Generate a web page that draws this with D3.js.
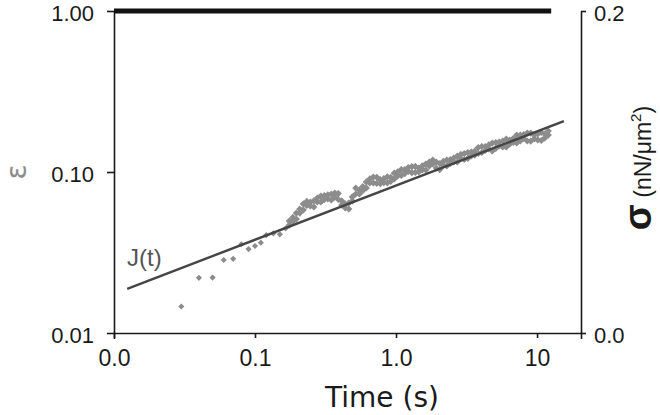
<!DOCTYPE html>
<html>
<head>
<meta charset="utf-8">
<script src="https://cdn.jsdelivr.net/npm/d3@7"></script>
<style>
  body { margin: 0; background: #fff; }
  svg { display: block; }
</style>
</head>
<body>
<script>
// creep data: time (s) and strain epsilon
// early, well separated points
var earlyTime = [0.03, 0.04, 0.05, 0.06, 0.07, 0.08, 0.09, 0.10, 0.11, 0.12, 0.135, 0.15, 0.165];
var earlyStrain = [0.0146, 0.0220, 0.0221, 0.0284, 0.0289, 0.0356, 0.0332, 0.0347, 0.0364, 0.0405, 0.0416, 0.0410, 0.0447];

// later points form a thick band: two readings (lower / upper part of the band) per time
var lateTime = [0.175, 0.1854, 0.1963, 0.2078, 0.22, 0.233, 0.2467, 0.2612, 0.2765, 0.2928,
  0.31, 0.3282, 0.3475, 0.368, 0.3896, 0.4125, 0.4368, 0.4625, 0.4897, 0.5185,
  0.549, 0.5813, 0.6155, 0.6517, 0.69, 0.7306, 0.7735, 0.819, 0.8672, 0.9182,
  0.9722, 1.029, 1.09, 1.154, 1.222, 1.294, 1.37, 1.45, 1.535, 1.626,
  1.721, 1.823, 1.93, 2.043, 2.163, 2.291, 2.425, 2.568, 2.719, 2.879,
  3.048, 3.227, 3.417, 3.618, 3.831, 4.056, 4.295, 4.547, 4.814, 5.097,
  5.397, 5.714, 6.05, 6.406, 6.783, 7.182, 7.604, 8.051, 8.524, 9.026,
  9.556, 10.12, 10.71, 11.34, 12.01];
var lateStrainA = [0.0496, 0.0493, 0.0556, 0.0556, 0.0581, 0.0656, 0.0615, 0.0661, 0.0651, 0.0651,
  0.0714, 0.0680, 0.0730, 0.0699, 0.0675, 0.0661, 0.0598, 0.0642, 0.0661, 0.0730,
  0.0773, 0.0767, 0.0867, 0.0855, 0.0855, 0.0927, 0.0848, 0.0909, 0.0857, 0.0927,
  0.0986, 0.0945, 0.0951, 0.1036, 0.1007, 0.1079, 0.0994, 0.1059, 0.1029, 0.1121,
  0.1090, 0.1187, 0.1059, 0.1129, 0.1098, 0.1090, 0.1196, 0.1154, 0.1257, 0.1213,
  0.1196, 0.1322, 0.1257, 0.1350, 0.1303, 0.1440, 0.1360, 0.1472, 0.1350, 0.1525,
  0.1450, 0.1430, 0.1603, 0.1492, 0.1615, 0.1514, 0.1697, 0.1615, 0.1558, 0.1746,
  0.1603, 0.1722, 0.1569, 0.1722, 0.1697];
var lateStrainB = [0.0468, 0.0522, 0.0510, 0.0589, 0.0633, 0.0620, 0.0651, 0.0607, 0.0689, 0.0709,
  0.0674, 0.0720, 0.0670, 0.0740, 0.0735, 0.0624, 0.0633, 0.0589, 0.0700, 0.0795,
  0.0730, 0.0812, 0.0796, 0.0905, 0.0931, 0.0851, 0.0898, 0.0858, 0.0934, 0.0875,
  0.0905, 0.1001, 0.1036, 0.0978, 0.1066, 0.0991, 0.1083, 0.1000, 0.1090, 0.1029,
  0.1154, 0.1121, 0.1154, 0.1036, 0.1163, 0.1187, 0.1130, 0.1222, 0.1154, 0.1285,
  0.1303, 0.1214, 0.1331, 0.1274, 0.1420, 0.1322, 0.1440, 0.1390, 0.1513, 0.1400,
  0.1536, 0.1558, 0.1430, 0.1580, 0.1525, 0.1697, 0.1558, 0.1710, 0.1747, 0.1557,
  0.1697, 0.1581, 0.1759, 0.1626, 0.1797];

// power-law fit J(t), end points
var fitTime = [0.0124, 15.5];
var fitStrain = [0.0188, 0.207];

// applied stress (right axis)
var stressTime = [0.01, 12.6];
var stress = [0.2, 0.2];

var xTicks = [0.01, 0.1, 1, 10];
var xTickLabels = ["0.0", "0.1", "1.0", "10"];
var yTicks = [0.01, 0.1, 1];
var yTickLabels = ["0.01", "0.10", "1.00"];
var y2Ticks = [0, 0.2];
var y2TickLabels = ["0.0", "0.2"];

var W = 660, H = 415;
var margin = {top: 11, right: 79, bottom: 82, left: 114};
var width = W - margin.left - margin.right,
    height = H - margin.top - margin.bottom;

var svg = d3.select("body").append("svg")
    .attr("width", W)
    .attr("height", H);

var g = svg.append("g")
    .attr("transform", "translate(" + margin.left + "," + margin.top + ")");

var x = d3.scaleLog().domain([0.01, 20.5]).range([0, width]);
var y = d3.scaleLog().domain([0.01, 1]).range([height, 0]);
var y2 = d3.scaleLinear().domain([0, 0.2]).range([height, 0]);

var numFont = "'Liberation Sans', Arial, sans-serif";

// bottom axis
var xAxis = g.append("g")
    .attr("transform", "translate(0," + height + ")")
    .call(d3.axisBottom(x).tickValues(xTicks)
      .tickFormat(function(d, i) { return xTickLabels[i]; })
      .tickSize(5).tickSizeOuter(6).tickPadding(6));

// left axis
var yAxis = g.append("g")
    .call(d3.axisLeft(y).tickValues(yTicks)
      .tickFormat(function(d, i) { return yTickLabels[i]; })
      .tickSize(7).tickSizeOuter(0).tickPadding(13));

// right axis
var y2Axis = g.append("g")
    .attr("transform", "translate(" + width + ",0)")
    .call(d3.axisRight(y2).tickValues(y2Ticks)
      .tickFormat(function(d, i) { return y2TickLabels[i]; })
      .tickSize(5).tickSizeOuter(0).tickPadding(8));

[xAxis, yAxis, y2Axis].forEach(function(a) {
  a.select(".domain").attr("stroke", "#1a1a1a").attr("stroke-width", 1.6);
  a.selectAll(".tick line").attr("stroke", "#1a1a1a").attr("stroke-width", 1.6);
  a.selectAll("text").attr("fill", "#1a1a1a")
    .style("font-family", numFont).style("font-size", "22px");
});
xAxis.selectAll("text").style("font-size", "23px").attr("dy", "0.95em");
yAxis.selectAll("text").attr("dy", "0.44em");
y2Axis.selectAll("text").attr("dy", "0.44em");

// data diamonds
var points = earlyTime.map(function(t, i) { return {t: t, e: earlyStrain[i], s: 19}; });
lateTime.forEach(function(t, i) {
  points.push({t: t, e: lateStrainA[i], s: 26});
  points.push({t: t, e: lateStrainB[i], s: 26});
});

g.selectAll(".pt")
    .data(points)
  .enter().append("path")
    .attr("class", "pt")
    .attr("d", function(d) { return d3.symbol().type(d3.symbolSquare).size(d.s)(); })
    .attr("transform", function(d) {
      return "translate(" + x(d.t) + "," + y(d.e) + ") rotate(45)";
    })
    .attr("fill", "#8c8c8c");

// fit line
var fitLine = d3.line()
    .x(function(d) { return x(d); })
    .y(function(d, i) { return y(fitStrain[i]); });
g.append("path")
    .datum(fitTime)
    .attr("fill", "none")
    .attr("stroke", "#454545")
    .attr("stroke-width", 2.4)
    .attr("d", fitLine);

// stress line
var stressLine = d3.line()
    .x(function(d) { return x(d); })
    .y(function(d, i) { return y2(stress[i]); });
g.append("path")
    .datum(stressTime)
    .attr("fill", "none")
    .attr("stroke", "#111")
    .attr("stroke-width", 5)
    .attr("d", stressLine);

// labels
g.append("text")
    .attr("x", 13)
    .attr("y", 255)
    .style("font-family", numFont)
    .style("font-size", "24px")
    .attr("fill", "#555")
    .text("J(t)");

svg.append("text")
    .attr("x", 382)
    .attr("y", 407)
    .attr("text-anchor", "middle")
    .style("font-family", "'DejaVu Sans', sans-serif")
    .style("font-size", "28px")
    .attr("fill", "#1a1a1a")
    .text("Time (s)");

svg.append("text")
    .attr("transform", "translate(26,172) rotate(-90)")
    .attr("text-anchor", "middle")
    .style("font-family", "'DejaVu Sans', sans-serif")
    .style("font-size", "28px")
    .attr("fill", "#8c8c8c")
    .text("ε");

var sig = svg.append("text")
    .attr("transform", "translate(651,168) rotate(-90)")
    .attr("text-anchor", "middle")
    .style("font-family", numFont)
    .attr("fill", "#1a1a1a");
sig.append("tspan").style("font-size", "38px").style("font-weight", "bold").text("σ");
sig.append("tspan").style("font-size", "23px").text(" (nN/μm");
sig.append("tspan").style("font-size", "15px").attr("dy", "-10").text("2");
sig.append("tspan").style("font-size", "23px").attr("dy", "10").text(")");
</script>
</body>
</html>
